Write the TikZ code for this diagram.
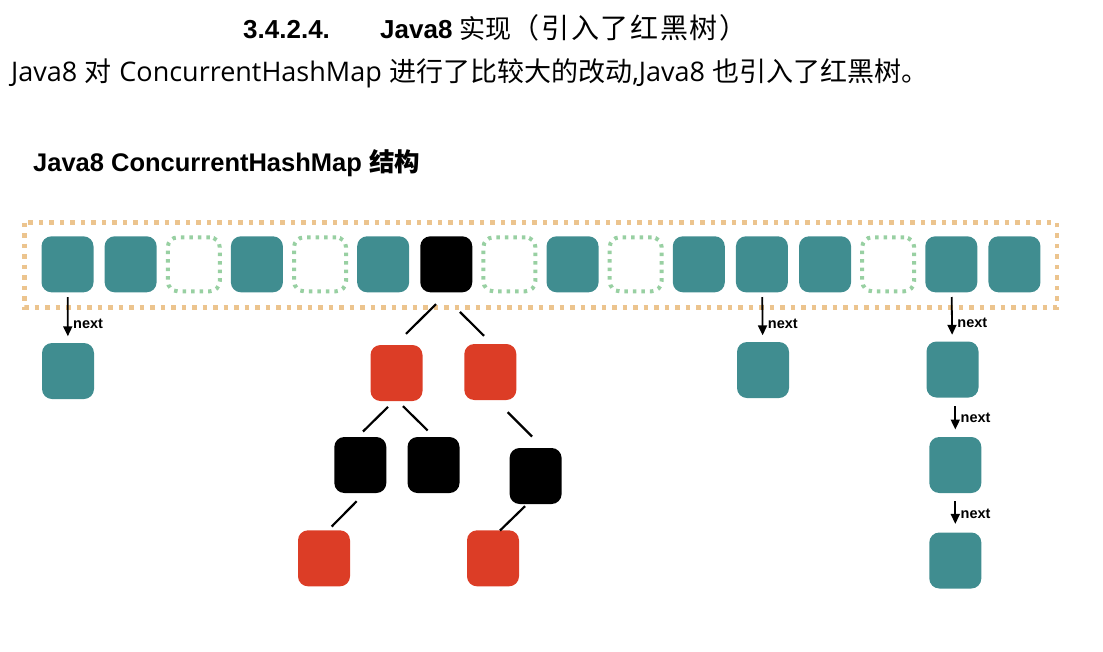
\documentclass[tikz,border=0pt]{standalone}
\usepackage{fontspec}
\setmainfont{Liberation Sans}
\newfontfamily\cjk{Noto Sans CJK SC}
\newfontfamily\cjkwide[LetterSpace=6]{Noto Sans CJK SC}
\newfontfamily\latinsans{Open Sans}
\usetikzlibrary{arrows.meta,positioning,calc}

\definecolor{bucketteal}{RGB}{64,141,144}
\definecolor{treered}{RGB}{220,61,38}
\definecolor{emptygreen}{RGB}{152,208,162}
\definecolor{frameorange}{RGB}{236,196,142}

\begin{document}
\begin{tikzpicture}[x=1pt,y=-1pt,
  box/.style={minimum width=52pt,minimum height=56pt,inner sep=0pt,rounded corners=10pt},
  tealbox/.style={box,fill=bucketteal},
  blackbox/.style={box,fill=black},
  redbox/.style={box,fill=treered},
  emptybox/.style={box,minimum height=54pt,draw=emptygreen,line width=4pt,dash pattern=on 3.5pt off 5pt},
  frame/.style={draw=frameorange,line width=4.5pt,dash pattern=on 4.5pt off 6pt},
  treeedge/.style={line width=2.2pt},
  nextarrow/.style={line width=1.8pt,-{Triangle[length=10pt,width=9pt]},shorten <=4.5pt,shorten >=6.5pt},
  nextlbl/.style={anchor=west,inner sep=0pt,xshift=4.5pt,font=\bfseries\fontsize{14.5}{16}\selectfont}]
\useasboundingbox (0,0) rectangle (1103,651);
% heading
\node[anchor=base west,inner sep=0pt,font=\bfseries\fontsize{26}{30}\selectfont] (secnum) at (243,38.3) {3.4.2.4.};
\node[anchor=base west,inner sep=0pt,font=\fontsize{26}{30}\selectfont] (sectitle) at (380,38.3) {\textbf{Java8} {\cjk 实现}{\cjkwide\fontsize{28}{30}\selectfont （引入了红黑树）}};
\node[anchor=base west,inner sep=0pt,font=\fontsize{27}{32}\selectfont] (intro) at (11,81.7) {{\latinsans Java8} {\cjk 对} {\latinsans ConcurrentHashMap} {\cjk 进行了比较大的改动}{\latinsans ,Java8} {\cjk 也引入了红黑树。}};
\node[anchor=base west,inner sep=0pt,font=\bfseries\fontsize{25.5}{30}\selectfont] (figtitle) at (33,171.5) {Java8 ConcurrentHashMap {\cjk 结构}};
% bucket array
\draw[frame] (24.6,222.7) rectangle (1057,307.3);
\foreach \kind [count=\i] in {tealbox,tealbox,emptybox,tealbox,emptybox,tealbox,blackbox,emptybox,tealbox,emptybox,tealbox,tealbox,tealbox,emptybox,tealbox,tealbox}
  \node[\kind] (s\i) at ({67.5+(\i-1)*63.13},264.3) {};
% linked lists
\node[tealbox] (c1) at (68,371) {};
\draw[nextarrow] (s1) -- node[nextlbl,pos=0.63] {next} (c1);
\node[tealbox] (c2) at (763,370) {};
\draw[nextarrow] (s12) -- node[nextlbl,pos=0.63] {next} (c2);
\node[tealbox] (r1) at (952.5,369.5) {};
\node[tealbox] (r2) at (955.3,465) {};
\node[tealbox] (r3) at (955.3,560.5) {};
\draw[nextarrow] (s15) -- node[nextlbl,pos=0.63] {next} (r1);
\draw[nextarrow,shorten <=8.4pt,shorten >=7.3pt] (r1.south -| r2) -- node[nextlbl,pos=0.52] {next} (r2);
\draw[nextarrow,shorten <=8pt,shorten >=8.4pt] (r2) -- node[nextlbl,pos=0.52] {next} (r3);
% red-black tree
\node[redbox] (rl) at (396.5,373) {};
\node[redbox] (rr) at (490.3,372) {};
\node[blackbox] (bl) at (360.3,465) {};
\node[blackbox] (bm) at (433.5,465) {};
\node[blackbox] (br) at (535.6,476) {};
\node[redbox] (rll) at (324,558.3) {};
\node[redbox] (rrl) at (493,558.3) {};
\draw[treeedge] ($(s7.south)+(-10.3,11.7)$) -- ($(rl.north)+(9.5,-11)$);
\draw[treeedge] ($(s7.south)+(13.7,19.5)$) -- ($(rr.north)+(-6.3,-8)$);
\draw[treeedge] ($(rl.south)+(-8.5,5.7)$) -- ($(bl.north)+(2.7,-5.3)$);
\draw[treeedge] ($(rl.south)+(6.5,5)$) -- ($(bm.north)+(-5.8,-6.3)$);
\draw[treeedge] ($(rr.south)+(17.4,12)$) -- ($(br.north)+(-3.6,-11.3)$);
\draw[treeedge] ($(bl.south)+(-3.6,8)$) -- ($(rll.north)+(7.7,-3.6)$);
\draw[treeedge] ($(br.south)+(-10.6,2)$) -- ($(rrl.north)+(7,0.4)$);
\end{tikzpicture}
\end{document}
